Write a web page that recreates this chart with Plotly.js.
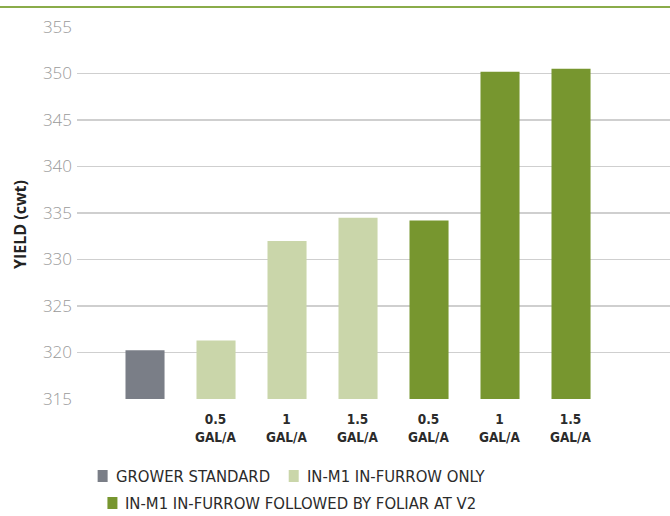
<!DOCTYPE html>
<html><head><meta charset="utf-8">
<script src="https://cdn.plot.ly/plotly-3.0.1.min.js"></script>
<style>html,body{margin:0;padding:0;background:#fff}#c{width:670px;height:516px}</style>
</head><body><div id="c"></div>
<script>
const rateLabels = ["", "0.5", "1", "1.5", "0.5", "1", "1.5"];
const unitLabels = ["", "GAL/A", "GAL/A", "GAL/A", "GAL/A", "GAL/A", "GAL/A"];
const seriesNames = ["GROWER STANDARD", "IN-M1 IN-FURROW ONLY", "IN-M1 IN-FURROW FOLLOWED BY FOLIAR AT V2"];
const growerX = [0];
const growerY = [320.25];
const furrowX = [1, 2, 3];
const furrowY = [321.3, 332.0, 334.5];
const foliarX = [4, 5, 6];
const foliarY = [334.2, 350.2, 350.5];
const colors = ["#7a7e87", "#cad6aa", "#77962f"];

const condensed = "DejaVu Sans Condensed, Roboto Condensed, Liberation Sans Narrow, Roboto, sans-serif";
const traces = [
  {type:"bar", x:growerX, y:growerY, name:seriesNames[0], marker:{color:colors[0]}, width:0.55},
  {type:"bar", x:furrowX, y:furrowY, name:seriesNames[1], marker:{color:colors[1]}, width:0.55},
  {type:"bar", x:foliarX, y:foliarY, name:seriesNames[2], marker:{color:colors[2]}, width:0.55}
];

// pixel helpers for paper coordinates (plot area: x 77..670, y 27..399)
const px = v => (v - 77) / 593;
const py = v => (399 - v) / 372;

const ctx = document.createElement("canvas").getContext("2d");
function textW(t, size, weight) {
  ctx.font = (weight || 400) + " " + size + "px " + condensed;
  return ctx.measureText(t).width;
}
const legSize = 16.5;
const tickSize = 13.5;

const annotations = [];
rateLabels.forEach((t, i) => {
  if (t) annotations.push({text:t + "<br>" + unitLabels[i], xref:"x", x:i, yref:"paper", y:py(428),
    xanchor:"center", yanchor:"middle", showarrow:false,
    font:{family:condensed, size:tickSize, color:"#2b2b2b", weight:700}});
});
annotations.push({text:"YIELD (cwt)", textangle:-90, xref:"paper", yref:"paper",
  x:px(20), y:py(225), xanchor:"center", yanchor:"middle", showarrow:false,
  font:{family:"Open Sans, sans-serif", size:16, color:"#222", weight:700}});

// legend built from series names/colors, rows centred like the reference
const mW = 10, mGap = 6, itemGap = 21;
const w = seriesNames.map(n => textW(n, legSize));
const row1W = mW + mGap + w[0] + itemGap + mW + mGap + w[1];
const row2W = mW + mGap + w[2];
const r1x = 290 - row1W / 2;
const legendPos = [[r1x, 476], [r1x + mW + mGap + w[0] + itemGap, 476], [291 - row2W / 2, 503]];
const shapes = [{type:"line", xref:"paper", yref:"paper", x0:px(0), x1:px(671), y0:py(7), y1:py(7),
  line:{color:"#8aac4a", width:2}}];
seriesNames.forEach((n, i) => {
  const [lx, ly] = legendPos[i];
  shapes.push({type:"rect", xref:"paper", yref:"paper", x0:px(lx), x1:px(lx + mW), y0:py(ly - 6), y1:py(ly + 6),
    fillcolor:colors[i], line:{width:0}});
  annotations.push({text:n, xref:"paper", yref:"paper", x:px(lx + mW + mGap), y:py(ly), xanchor:"left", yanchor:"middle",
    showarrow:false, font:{family:condensed, size:legSize, color:"#2b2b2b"}});
});

const layout = {
  width:670, height:516,
  margin:{l:77, r:0, t:27, b:117},
  paper_bgcolor:"#fff", plot_bgcolor:"#fff",
  barmode:"overlay",
  hovermode:false,
  showlegend:false,
  xaxis:{range:[-0.958, 7.394], showticklabels:false, showgrid:false, zeroline:false, showline:false, ticks:""},
  yaxis:{range:[315, 355], dtick:5, tick0:315, showgrid:true, gridcolor:"#cfcfcf", gridwidth:1.5,
         zeroline:false, showline:false, ticks:"", ticklabelstandoff:4,
         tickfont:{family:"Open Sans, sans-serif", size:17, color:"#9a9a9a", weight:300}},
  annotations:annotations,
  shapes:shapes
};
Plotly.newPlot("c", traces, layout, {displayModeBar:false, staticPlot:true});
</script></body></html>
